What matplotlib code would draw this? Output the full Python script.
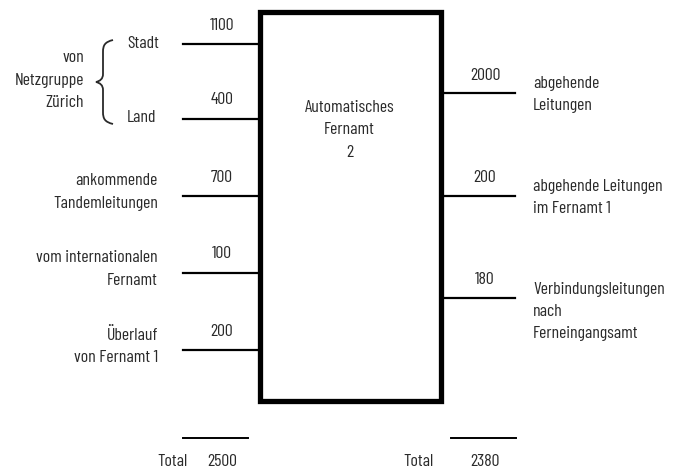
import matplotlib.pyplot as plt
from matplotlib.patches import Rectangle, PathPatch
from matplotlib.path import Path

# incoming trunk groups (left side)
in_labels = ["Stadt", "Land", "ankommende\nTandemleitungen",
             "vom internationalen\nFernamt", "Überlauf\nvon Fernamt 1"]
in_values = [1100, 400, 700, 100, 200]

# outgoing trunk groups (right side)
out_labels = ["abgehende\nLeitungen", "abgehende Leitungen\nim Fernamt 1",
              "Verbindungsleitungen\nnach\nFerneingangsamt"]
out_values = [2000, 200, 180]

center_label = "Automatisches\nFernamt\n2"
group_label = "von\nNetzgruppe\nZürich"

# layout (pixel coordinates of the 681x468 canvas)
in_y = [44, 119, 196, 273, 350]
out_y = [93, 196, 298]
box = (260, 12, 441, 401)

plt.rcParams['font.family'] = ['Barlow Condensed', 'DejaVu Sans']
ink = '#2a2a2a'
fs = 12.8
ls = 1.62

fig = plt.figure(figsize=(6.81, 4.68), dpi=100)
ax = fig.add_axes([0, 0, 1, 1])
ax.set_xlim(0, 681)
ax.set_ylim(468, 0)
ax.axis('off')

x0, y0, x1, y1 = box
ax.add_patch(Rectangle((x0, y0), x1 - x0, y1 - y0, fill=False, lw=3.8, ec='black'))
ax.text((x0 + x1) / 2 - 1, 130, center_label, ha='center', va='center',
        fontsize=fs, color=ink, linespacing=ls)

# left side
for i, (lab, val, y) in enumerate(zip(in_labels, in_values, in_y)):
    ax.plot([183, x0], [y, y], color='black', lw=1.6)
    ax.text(222, y - 19, str(val), ha='center', va='center', fontsize=fs, color=ink)
    if i < 2:
        ax.text(127, y - 1, lab, ha='left', va='center', fontsize=fs, color=ink)
    else:
        ax.text(158, y - 4, lab, ha='right', va='center', fontsize=fs,
                color=ink, linespacing=ls)

ax.text(84, 80, group_label, ha='right', va='center', fontsize=fs,
        color=ink, linespacing=ls)

# curly brace joining Stadt and Land
bx, by0, by1, bm = 103, 40, 124, 82
verts = [(113, by0), (105, by0 + 2), (bx, by0 + 5), (bx, by0 + 12),
         (bx, bm - 8),
         (bx, bm - 3), (100, bm - 1), (96, bm),
         (100, bm + 1), (bx, bm + 3), (bx, bm + 8),
         (bx, by1 - 12),
         (bx, by1 - 5), (105, by1 - 2), (113, by1)]
codes = [Path.MOVETO, Path.CURVE4, Path.CURVE4, Path.CURVE4,
         Path.LINETO,
         Path.CURVE4, Path.CURVE4, Path.CURVE4,
         Path.CURVE4, Path.CURVE4, Path.CURVE4,
         Path.LINETO,
         Path.CURVE4, Path.CURVE4, Path.CURVE4]
ax.add_patch(PathPatch(Path(verts, codes), fill=False, lw=1.3, ec=ink))

# right side
for lab, val, y in zip(out_labels, out_values, out_y):
    ax.plot([x1, 515], [y, y], color='black', lw=1.6)
    ax.text(485, y - 18, str(val), ha='center', va='center', fontsize=fs, color=ink)
    nlines = lab.count('\n') + 1
    mid = (y - 10) + (nlines - 1) * 23.5 / 2
    ax.text(533, mid, lab, ha='left', va='center', fontsize=fs,
            color=ink, linespacing=ls)

# totals
ax.plot([183, 248], [438, 438], color='black', lw=1.4)
ax.text(172, 461, 'Total', ha='center', va='center', fontsize=fs, color=ink)
ax.text(222, 461, str(sum(in_values)), ha='center', va='center', fontsize=fs, color=ink)
ax.plot([451, 516], [438, 438], color='black', lw=1.4)
ax.text(419, 461, 'Total', ha='center', va='center', fontsize=fs, color=ink)
ax.text(485, 461, str(sum(out_values)), ha='center', va='center', fontsize=fs, color=ink)

fig.savefig('out.png', dpi=100)
